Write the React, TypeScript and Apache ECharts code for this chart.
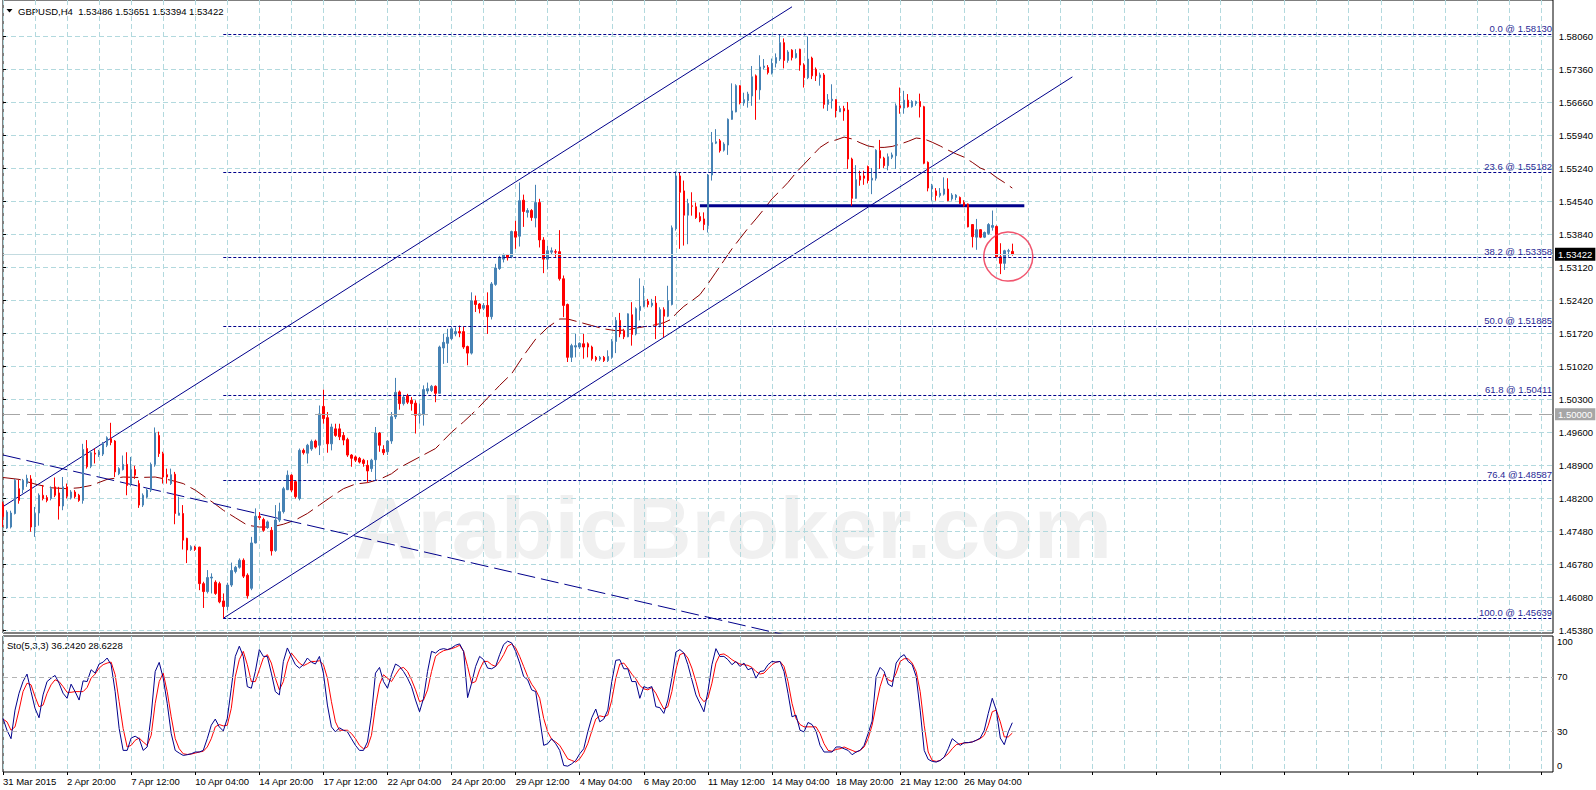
import React, { useEffect, useRef } from 'react';
import * as echarts from 'echarts';

// ---------- data ----------
const headerText = 'GBPUSD,H4  1.53486 1.53651 1.53394 1.53422';
const stochTitle = 'Sto(5,3,3) 36.2420 28.6228';
const watermarkText = 'ArabicBroker.com';

const dateLabels = ['31 Mar 2015', '2 Apr 20:00', '7 Apr 12:00', '10 Apr 04:00', '14 Apr 20:00', '17 Apr 12:00', '22 Apr 04:00', '24 Apr 20:00', '29 Apr 12:00', '4 May 04:00', '6 May 20:00', '11 May 12:00', '14 May 04:00', '18 May 20:00', '21 May 12:00', '26 May 04:00'];
const priceTickLabels = ['1.58060', '1.57360', '1.56660', '1.55940', '1.55240', '1.54540', '1.53840', '1.53120', '1.52420', '1.51720', '1.51020', '1.50300', '1.49600', '1.48900', '1.48200', '1.47480', '1.46780', '1.46080', '1.45380'];
const stochTickLabels = ['0', '30', '70', '100'];
const stochLevels = [30, 70];

// H4 candles: [open, close, low, high]
const ohlc = [
  [1.4808, 1.4781, 1.4759, 1.4813], [1.4757, 1.4791, 1.4755, 1.4795], [1.4759, 1.4789, 1.4756, 1.4794], [1.4788, 1.4859, 1.4786, 1.4862],
  [1.4841, 1.4816, 1.4809, 1.4860], [1.4839, 1.4859, 1.4831, 1.4862], [1.4852, 1.4863, 1.4845, 1.4871], [1.4862, 1.4759, 1.4749, 1.4870],
  [1.4759, 1.4788, 1.4738, 1.4802], [1.4789, 1.4827, 1.4762, 1.4831], [1.4827, 1.4820, 1.4816, 1.4849], [1.4822, 1.4816, 1.4812, 1.4827],
  [1.4820, 1.4841, 1.4816, 1.4846], [1.4845, 1.4827, 1.4823, 1.4865], [1.4832, 1.4804, 1.4775, 1.4845], [1.4804, 1.4845, 1.4795, 1.4866],
  [1.4845, 1.4825, 1.4820, 1.4852], [1.4822, 1.4834, 1.4818, 1.4838], [1.4834, 1.4824, 1.4820, 1.4838], [1.4827, 1.4816, 1.4813, 1.4830],
  [1.4816, 1.4925, 1.4809, 1.4937], [1.4927, 1.4888, 1.4884, 1.4945], [1.4889, 1.4918, 1.4885, 1.4922], [1.4917, 1.4915, 1.4895, 1.4927],
  [1.4913, 1.4920, 1.4909, 1.4924], [1.4915, 1.4937, 1.4911, 1.4941], [1.4934, 1.4950, 1.4930, 1.4953], [1.4948, 1.4940, 1.4934, 1.4982],
  [1.4943, 1.4877, 1.4866, 1.4945], [1.4873, 1.4884, 1.4870, 1.4887], [1.4882, 1.4893, 1.4880, 1.4912], [1.4893, 1.4848, 1.4827, 1.4919],
  [1.4852, 1.4882, 1.4846, 1.4909], [1.4882, 1.4870, 1.4862, 1.4890], [1.4852, 1.4806, 1.4800, 1.4859], [1.4806, 1.4827, 1.4802, 1.4831],
  [1.4823, 1.4838, 1.4820, 1.4842], [1.4838, 1.4893, 1.4834, 1.4897], [1.4893, 1.4960, 1.4888, 1.4972], [1.4955, 1.4916, 1.4909, 1.4963],
  [1.4916, 1.4866, 1.4852, 1.4920], [1.4871, 1.4866, 1.4852, 1.4884], [1.4852, 1.4871, 1.4849, 1.4884], [1.4872, 1.4788, 1.4765, 1.4877],
  [1.4784, 1.4789, 1.4784, 1.4824], [1.4788, 1.4731, 1.4711, 1.4806], [1.4735, 1.4710, 1.4682, 1.4736], [1.4711, 1.4717, 1.4708, 1.4720],
  [1.4716, 1.4711, 1.4708, 1.4719], [1.4716, 1.4638, 1.4624, 1.4717], [1.4638, 1.4621, 1.4586, 1.4642], [1.4621, 1.4651, 1.4617, 1.4667],
  [1.4650, 1.4652, 1.4617, 1.4660], [1.4641, 1.4617, 1.4614, 1.4645], [1.4638, 1.4599, 1.4596, 1.4642], [1.4601, 1.4589, 1.4564, 1.4617],
  [1.4589, 1.4635, 1.4581, 1.4640], [1.4635, 1.4666, 1.4631, 1.4683], [1.4664, 1.4673, 1.4660, 1.4676], [1.4673, 1.4688, 1.4670, 1.4692],
  [1.4688, 1.4654, 1.4650, 1.4692], [1.4656, 1.4612, 1.4606, 1.4660], [1.4628, 1.4725, 1.4624, 1.4738], [1.4725, 1.4782, 1.4724, 1.4799],
  [1.4782, 1.4779, 1.4774, 1.4791], [1.4775, 1.4752, 1.4749, 1.4779], [1.4758, 1.4770, 1.4755, 1.4773], [1.4752, 1.4708, 1.4698, 1.4759],
  [1.4709, 1.4774, 1.4706, 1.4806], [1.4774, 1.4792, 1.4770, 1.4811], [1.4792, 1.4841, 1.4788, 1.4845], [1.4839, 1.4870, 1.4838, 1.4880],
  [1.4870, 1.4838, 1.4834, 1.4872], [1.4856, 1.4824, 1.4820, 1.4859], [1.4820, 1.4923, 1.4816, 1.4927], [1.4923, 1.4918, 1.4914, 1.4927],
  [1.4917, 1.4934, 1.4895, 1.4937], [1.4926, 1.4942, 1.4922, 1.4946], [1.4943, 1.4930, 1.4927, 1.4946], [1.4934, 1.5001, 1.4913, 1.5019],
  [1.5017, 1.4991, 1.4980, 1.5053], [1.4993, 1.4937, 1.4918, 1.5005], [1.4937, 1.4973, 1.4923, 1.4980], [1.4969, 1.4955, 1.4952, 1.4980],
  [1.4969, 1.4952, 1.4945, 1.4980], [1.4955, 1.4945, 1.4934, 1.4962], [1.4946, 1.4913, 1.4909, 1.4950], [1.4913, 1.4906, 1.4888, 1.4915],
  [1.4909, 1.4902, 1.4898, 1.4912], [1.4906, 1.4898, 1.4895, 1.4909], [1.4902, 1.4895, 1.4888, 1.4905], [1.4891, 1.4879, 1.4854, 1.4902],
  [1.4884, 1.4902, 1.4877, 1.4905], [1.4903, 1.4960, 1.4859, 1.4973], [1.4960, 1.4934, 1.4920, 1.4962], [1.4925, 1.4918, 1.4913, 1.4934],
  [1.4920, 1.4943, 1.4913, 1.4945], [1.4943, 1.4995, 1.4937, 1.5005], [1.4995, 1.5047, 1.4990, 1.5078], [1.5048, 1.5023, 1.5010, 1.5051],
  [1.5023, 1.5037, 1.5019, 1.5042], [1.5040, 1.5026, 1.5022, 1.5044], [1.5030, 1.5023, 1.5008, 1.5037], [1.5024, 1.4998, 1.4959, 1.5030],
  [1.4998, 1.5001, 1.4980, 1.5023], [1.5001, 1.5053, 1.4976, 1.5062], [1.5050, 1.5055, 1.5044, 1.5068], [1.5051, 1.5060, 1.5048, 1.5063],
  [1.5060, 1.5045, 1.5026, 1.5062], [1.5045, 1.5144, 1.5044, 1.5147], [1.5142, 1.5154, 1.5108, 1.5172], [1.5152, 1.5165, 1.5110, 1.5183],
  [1.5162, 1.5183, 1.5159, 1.5188], [1.5172, 1.5177, 1.5167, 1.5186], [1.5177, 1.5174, 1.5165, 1.5190], [1.5177, 1.5144, 1.5140, 1.5188],
  [1.5145, 1.5131, 1.5105, 1.5147], [1.5131, 1.5243, 1.5128, 1.5261], [1.5243, 1.5235, 1.5219, 1.5254], [1.5236, 1.5226, 1.5216, 1.5238],
  [1.5227, 1.5233, 1.5223, 1.5238], [1.5233, 1.5209, 1.5172, 1.5261], [1.5209, 1.5279, 1.5203, 1.5283], [1.5278, 1.5313, 1.5275, 1.5322],
  [1.5312, 1.5336, 1.5309, 1.5339], [1.5332, 1.5342, 1.5325, 1.5344], [1.5342, 1.5335, 1.5329, 1.5343], [1.5337, 1.5391, 1.5334, 1.5393],
  [1.5391, 1.5379, 1.5354, 1.5414], [1.5381, 1.5457, 1.5359, 1.5496], [1.5458, 1.5434, 1.5401, 1.5470], [1.5432, 1.5436, 1.5421, 1.5441],
  [1.5436, 1.5421, 1.5414, 1.5439], [1.5420, 1.5453, 1.5400, 1.5491], [1.5453, 1.5373, 1.5357, 1.5461], [1.5373, 1.5332, 1.5302, 1.5379],
  [1.5332, 1.5350, 1.5310, 1.5361], [1.5347, 1.5350, 1.5342, 1.5357], [1.5348, 1.5347, 1.5337, 1.5353], [1.5348, 1.5290, 1.5286, 1.5394],
  [1.5290, 1.5233, 1.5208, 1.5297], [1.5235, 1.5122, 1.5112, 1.5237], [1.5122, 1.5147, 1.5112, 1.5151], [1.5144, 1.5147, 1.5122, 1.5172],
  [1.5144, 1.5152, 1.5140, 1.5154], [1.5151, 1.5144, 1.5119, 1.5172], [1.5151, 1.5144, 1.5122, 1.5154], [1.5144, 1.5119, 1.5115, 1.5147],
  [1.5122, 1.5117, 1.5113, 1.5125], [1.5118, 1.5122, 1.5114, 1.5125], [1.5122, 1.5115, 1.5112, 1.5125], [1.5115, 1.5124, 1.5112, 1.5137],
  [1.5122, 1.5156, 1.5119, 1.5161], [1.5156, 1.5201, 1.5131, 1.5208], [1.5201, 1.5172, 1.5165, 1.5217], [1.5179, 1.5166, 1.5161, 1.5183],
  [1.5166, 1.5215, 1.5165, 1.5216], [1.5213, 1.5171, 1.5147, 1.5240], [1.5172, 1.5226, 1.5169, 1.5229], [1.5222, 1.5231, 1.5201, 1.5291],
  [1.5231, 1.5243, 1.5229, 1.5275], [1.5242, 1.5235, 1.5229, 1.5247], [1.5233, 1.5238, 1.5229, 1.5247], [1.5238, 1.5190, 1.5161, 1.5253],
  [1.5190, 1.5224, 1.5186, 1.5229], [1.5224, 1.5210, 1.5165, 1.5229], [1.5210, 1.5243, 1.5208, 1.5275], [1.5235, 1.5399, 1.5233, 1.5404],
  [1.5397, 1.5510, 1.5393, 1.5520], [1.5510, 1.5475, 1.5354, 1.5517], [1.5478, 1.5426, 1.5361, 1.5500], [1.5426, 1.5451, 1.5364, 1.5461],
  [1.5446, 1.5445, 1.5425, 1.5475], [1.5444, 1.5421, 1.5418, 1.5453], [1.5423, 1.5414, 1.5411, 1.5432], [1.5418, 1.5406, 1.5394, 1.5432],
  [1.5404, 1.5512, 1.5389, 1.5514], [1.5512, 1.5581, 1.5500, 1.5604], [1.5580, 1.5583, 1.5578, 1.5610], [1.5585, 1.5564, 1.5560, 1.5589],
  [1.5565, 1.5578, 1.5562, 1.5582], [1.5576, 1.5631, 1.5555, 1.5633], [1.5631, 1.5649, 1.5630, 1.5708], [1.5647, 1.5703, 1.5646, 1.5706],
  [1.5703, 1.5666, 1.5663, 1.5704], [1.5666, 1.5673, 1.5660, 1.5688], [1.5671, 1.5685, 1.5656, 1.5690], [1.5681, 1.5722, 1.5660, 1.5745],
  [1.5724, 1.5694, 1.5630, 1.5727], [1.5694, 1.5743, 1.5673, 1.5768], [1.5742, 1.5745, 1.5738, 1.5760], [1.5742, 1.5731, 1.5727, 1.5747],
  [1.5730, 1.5751, 1.5727, 1.5761], [1.5751, 1.5763, 1.5742, 1.5772], [1.5760, 1.5795, 1.5756, 1.5813], [1.5795, 1.5757, 1.5740, 1.5804],
  [1.5757, 1.5775, 1.5752, 1.5779], [1.5779, 1.5763, 1.5757, 1.5781], [1.5763, 1.5772, 1.5761, 1.5781], [1.5781, 1.5747, 1.5735, 1.5782],
  [1.5747, 1.5720, 1.5699, 1.5751], [1.5720, 1.5760, 1.5717, 1.5808], [1.5762, 1.5724, 1.5717, 1.5765], [1.5738, 1.5724, 1.5713, 1.5742],
  [1.5720, 1.5726, 1.5703, 1.5731], [1.5726, 1.5663, 1.5654, 1.5730], [1.5663, 1.5673, 1.5649, 1.5685], [1.5671, 1.5674, 1.5654, 1.5706],
  [1.5673, 1.5649, 1.5635, 1.5674], [1.5647, 1.5654, 1.5647, 1.5660], [1.5654, 1.5649, 1.5628, 1.5660], [1.5651, 1.5546, 1.5525, 1.5668],
  [1.5546, 1.5462, 1.5446, 1.5549], [1.5462, 1.5502, 1.5461, 1.5533], [1.5510, 1.5501, 1.5489, 1.5521], [1.5510, 1.5505, 1.5491, 1.5521],
  [1.5530, 1.5500, 1.5494, 1.5532], [1.5501, 1.5505, 1.5471, 1.5527], [1.5505, 1.5565, 1.5500, 1.5567], [1.5564, 1.5548, 1.5525, 1.5587],
  [1.5548, 1.5532, 1.5527, 1.5551], [1.5532, 1.5551, 1.5522, 1.5558], [1.5550, 1.5555, 1.5546, 1.5560], [1.5553, 1.5660, 1.5525, 1.5665],
  [1.5660, 1.5656, 1.5643, 1.5699], [1.5655, 1.5672, 1.5643, 1.5692], [1.5672, 1.5658, 1.5656, 1.5685], [1.5658, 1.5669, 1.5656, 1.5672],
  [1.5665, 1.5669, 1.5660, 1.5671], [1.5669, 1.5658, 1.5635, 1.5686], [1.5658, 1.5537, 1.5535, 1.5660], [1.5539, 1.5484, 1.5477, 1.5541],
  [1.5482, 1.5489, 1.5457, 1.5493], [1.5478, 1.5468, 1.5457, 1.5484], [1.5468, 1.5473, 1.5464, 1.5484], [1.5471, 1.5482, 1.5468, 1.5507],
  [1.5482, 1.5457, 1.5456, 1.5505], [1.5461, 1.5469, 1.5457, 1.5473], [1.5464, 1.5469, 1.5458, 1.5471], [1.5464, 1.5451, 1.5450, 1.5466],
  [1.5453, 1.5446, 1.5444, 1.5458], [1.5450, 1.5401, 1.5400, 1.5451], [1.5406, 1.5380, 1.5357, 1.5407], [1.5379, 1.5395, 1.5352, 1.5418],
  [1.5395, 1.5379, 1.5377, 1.5396], [1.5379, 1.5389, 1.5377, 1.5391], [1.5387, 1.5406, 1.5384, 1.5409], [1.5400, 1.5404, 1.5393, 1.5436],
  [1.5402, 1.5337, 1.5336, 1.5404], [1.5337, 1.5323, 1.5300, 1.5366], [1.5323, 1.5350, 1.5309, 1.5352], [1.5349, 1.5350, 1.5337, 1.5354],
  [1.53486, 1.53422, 1.53394, 1.53651],
];

// moving average (dark red, dashed) read at sample candles: [candle index, price]
const maPoints = [
  [0, 1.4865], [4, 1.4861], [8, 1.4851], [12, 1.4843], [16, 1.4841], [19, 1.4843], [22, 1.4848], [26, 1.4861], [30, 1.4866], [34, 1.4865],
  [38, 1.4866], [42, 1.4859], [45, 1.4852], [48, 1.4838], [51, 1.4820], [53, 1.4808], [55, 1.4795], [58, 1.4779], [61, 1.4763], [64, 1.4759],
  [67, 1.4759], [70, 1.4765], [73, 1.4774], [76, 1.4788], [79, 1.4806], [82, 1.4824], [85, 1.4841], [88, 1.4851], [91, 1.4854], [94, 1.4861],
  [97, 1.4873], [99, 1.4886], [108, 1.4927], [112, 1.4962], [115, 1.4984], [118, 1.5008], [121, 1.5035], [124, 1.5062], [127, 1.5087],
  [130, 1.5126], [133, 1.5161], [136, 1.5186], [139, 1.5204], [141, 1.5204], [144, 1.5197], [147, 1.5190], [150, 1.5183], [153, 1.5179],
  [156, 1.5181], [159, 1.5186], [162, 1.5190], [165, 1.5196], [167, 1.5204], [168, 1.5215], [170, 1.5231], [172, 1.5243], [174, 1.5256],
  [176, 1.5279], [178, 1.5304], [180, 1.5329], [182, 1.5354], [184, 1.5376], [186, 1.5398], [188, 1.5418], [190, 1.5439], [192, 1.5461],
  [194, 1.5478], [196, 1.5496], [198, 1.5517], [200, 1.5535], [202, 1.5553], [204, 1.5571], [206, 1.5582], [208, 1.5587], [210, 1.5593],
  [212, 1.5589], [214, 1.5581], [216, 1.5574], [218, 1.5571], [220, 1.5571], [222, 1.5573], [224, 1.5578], [226, 1.5584], [228, 1.5591],
  [230, 1.5589], [232, 1.5582], [234, 1.5574], [236, 1.5565], [238, 1.5557], [240, 1.5550], [242, 1.5539], [244, 1.5527], [246, 1.5520],
  [248, 1.5507], [250, 1.5496], [252, 1.5484],
];

// Stochastic %K (navy) and %D (red)
const stochK = [
  39.4, 30.7, 24.5, 45.5, 57.9, 66.5, 72.0, 59.1, 46.8, 39.9, 56.7, 66.5, 69.0, 71.0, 65.3, 57.9, 54.2, 64.6, 59.1, 52.9,
  67.0, 66.5, 75.2, 72.7, 79.4, 80.8, 83.8, 78.9, 59.1, 32.0, 15.9, 15.9, 25.0, 26.3, 24.5, 15.9, 18.4, 41.8, 73.9, 80.6,
  69.0, 50.5, 28.3, 15.9, 13.9, 12.2, 12.7, 13.4, 14.7, 14.7, 15.9, 24.5, 34.4, 38.9, 33.2, 30.2, 39.4, 61.6, 85.0, 92.5,
  85.0, 62.8, 61.6, 73.9, 90.0, 85.0, 85.0, 72.7, 59.1, 56.7, 81.3, 91.2, 85.0, 78.9, 76.4, 78.9, 83.8, 80.8, 79.4, 85.0,
  72.7, 49.2, 33.2, 29.5, 32.5, 30.7, 29.5, 24.5, 19.6, 15.9, 15.9, 22.1, 41.8, 72.7, 76.9, 66.5, 61.6, 71.5, 79.4, 77.6,
  73.9, 69.0, 62.8, 52.9, 44.3, 54.2, 73.9, 88.7, 87.5, 90.0, 90.7, 90.0, 91.2, 93.2, 94.2, 88.7, 54.7, 65.3, 77.6, 85.0,
  82.6, 76.4, 75.9, 77.6, 86.3, 93.7, 96.2, 94.9, 88.7, 80.1, 70.2, 67.8, 60.4, 59.1, 39.4, 19.6, 20.8, 24.5, 20.8, 15.9,
  4.8, 4.3, 6.0, 8.5, 13.4, 17.1, 29.5, 39.9, 46.3, 36.9, 38.9, 45.5, 66.5, 82.1, 82.6, 75.9, 75.9, 66.5, 66.5, 54.2,
  62.8, 61.6, 62.8, 48.0, 47.3, 43.1, 52.9, 69.0, 88.2, 90.0, 87.5, 78.9, 67.8, 56.7, 50.5, 44.3, 59.1, 78.9, 90.7, 85.0,
  85.0, 82.6, 78.9, 81.3, 77.6, 80.1, 75.2, 76.4, 69.0, 73.9, 74.4, 78.9, 81.3, 80.8, 81.3, 73.9, 57.9, 40.6, 41.8, 30.7,
  29.5, 36.4, 34.9, 30.0, 19.6, 14.7, 14.7, 14.7, 18.4, 18.4, 17.1, 15.9, 12.7, 14.7, 15.9, 19.6, 28.3, 37.4, 70.2, 76.9,
  73.9, 64.6, 62.8, 80.1, 84.3, 86.3, 81.3, 78.9, 70.2, 45.5, 15.9, 9.3, 7.8, 7.3, 8.5, 11.0, 17.1, 24.5, 22.1, 19.6,
  21.6, 21.6, 22.1, 23.3, 25.0, 30.7, 43.1, 54.2, 45.5, 25.0, 20.1, 29.5, 36.242,
];
const stochD = [
  38.9, 36.9, 30.7, 33.2, 45.5, 59.1, 65.3, 64.1, 55.4, 48.0, 49.2, 57.9, 64.1, 67.8, 66.5, 62.8, 58.6, 58.6, 59.1, 59.1,
  59.1, 62.1, 69.0, 72.0, 76.4, 78.9, 80.1, 80.8, 71.5, 51.7, 32.0, 18.4, 19.6, 23.3, 25.0, 22.1, 19.6, 27.0, 50.5, 66.5,
  72.7, 59.1, 40.6, 24.5, 17.1, 13.4, 12.9, 13.2, 13.9, 14.7, 15.2, 18.4, 24.5, 33.2, 34.9, 33.9, 34.4, 46.8, 70.2, 82.6,
  88.7, 78.9, 66.5, 66.5, 75.2, 83.8, 86.3, 80.1, 69.0, 60.4, 66.5, 80.1, 87.5, 83.8, 80.1, 78.1, 79.6, 81.3, 81.3, 81.8,
  78.9, 69.0, 51.7, 36.9, 30.7, 30.7, 30.7, 28.3, 24.5, 19.6, 17.1, 18.4, 27.0, 48.0, 64.1, 71.5, 69.0, 66.5, 71.5, 75.9,
  76.9, 73.9, 67.8, 60.4, 51.7, 52.9, 60.4, 73.9, 85.0, 87.5, 89.2, 90.0, 90.7, 91.7, 93.2, 88.7, 77.6, 65.3, 66.5, 75.2,
  81.3, 81.3, 78.9, 77.6, 81.3, 86.3, 92.5, 94.2, 91.2, 85.0, 77.6, 70.2, 64.6, 60.4, 54.2, 39.4, 29.5, 24.0, 22.1, 19.6,
  14.7, 9.7, 8.5, 7.3, 9.7, 14.2, 20.8, 30.0, 38.9, 41.3, 40.6, 41.8, 52.9, 69.0, 79.4, 80.1, 76.4, 72.0, 68.5, 63.6,
  61.1, 60.4, 62.1, 57.9, 51.7, 46.3, 48.0, 59.1, 75.2, 86.3, 87.5, 83.8, 76.4, 66.5, 55.4, 51.7, 54.2, 65.3, 80.1, 86.3,
  86.8, 85.0, 82.6, 80.8, 79.4, 78.9, 78.4, 76.9, 73.9, 72.0, 72.7, 75.9, 78.9, 80.8, 81.3, 77.6, 66.5, 50.5, 39.4, 34.9,
  33.2, 33.2, 33.2, 33.2, 28.3, 20.8, 15.9, 15.2, 16.6, 17.1, 18.4, 17.1, 15.9, 14.7, 15.9, 18.4, 24.5, 34.4, 49.2, 62.8,
  72.0, 67.8, 66.5, 72.7, 81.3, 83.3, 83.3, 80.1, 73.9, 59.1, 34.4, 14.7, 8.5, 7.8, 8.5, 11.0, 13.4, 17.1, 20.1, 20.8,
  21.3, 21.6, 22.1, 23.3, 24.5, 27.0, 34.4, 44.3, 45.5, 36.9, 25.8, 25.8, 28.6228,
];

// Fibonacci retracement from the 10 Apr low to the 14 May high
const fibStartIndex = 55;
const fibLevels = [
  { price: 1.5813, text: '0.0 @ 1.58130' },
  { price: 1.55182, text: '23.6 @ 1.55182' },
  { price: 1.53358, text: '38.2 @ 1.53358' },
  { price: 1.51885, text: '50.0 @ 1.51885' },
  { price: 1.50411, text: '61.8 @ 1.50411' },
  { price: 1.48587, text: '76.4 @1.48587' },
  { price: 1.45639, text: '100.0 @ 1.45639' },
];

// hand-drawn objects: [candle index, price]
const upperChannel = [[0, 1.48027], [197, 1.58717]];
const lowerChannel = [[55, 1.45639], [267, 1.57218]];
const downTrend = [[0, 1.49131], [200, 1.45189]];
const neckline = [[174, 1.54463], [255, 1.54463]];
const circleMark = [[251, 1.53375]];
const bidPrice = 1.53422;
const roundLevel = 1.5;

// ---------- layout constants ----------
const SLOTS = 388;
const LABEL_STEP = 16;
const P_MIN = 1.453241;
const P_MAX = 1.588624;
const FONT = '"Liberation Sans", Arial, sans-serif';
const FS = 9.5;
const GRID_LINE = { color: '#b2d9de', type: [5, 3], width: 1 };
const NAVY = '#00008b';

export default function App() {
  const ref = useRef<HTMLDivElement>(null);
  useEffect(() => {
    document.body.style.margin = '0';
    if (!ref.current) return;
    const chart = echarts.init(ref.current, undefined, { renderer: 'svg' });
    const cats = Array.from({ length: SLOTS }, (_, i) => String(i));
    const dateFmt = (v: string) => {
      const i = Number(v);
      return i % LABEL_STEP === 0 ? (dateLabels[i / LABEL_STEP] ?? '') : '';
    };
    const lineSeries = (data: number[][], color: string, width: number, type: any) => ({
      type: 'line', xAxisIndex: 0, yAxisIndex: 0, data, symbol: 'none', silent: true,
      lineStyle: { color, width, type }, z: 3,
    });

    const fibData = fibLevels.map((f) => [
      {
        coord: [fibStartIndex, f.price], name: f.text,
        lineStyle: { color: NAVY, type: [3, 2], width: 1 },
        label: { show: true, position: 'insideEndTop', formatter: '{b}', color: '#2a2a96', fontSize: FS, fontFamily: FONT, distance: 1 },
      },
      { coord: [SLOTS - 1, f.price] },
    ]);
    const levelLine = (price: number, lineStyle: any, bg: string, pad: number[]) => [
      {
        coord: [0, price], name: price.toFixed(5), lineStyle,
        label: { show: true, position: 'end', formatter: '{b}', backgroundColor: bg, color: '#ffffff', padding: pad, distance: 2, fontSize: FS, fontFamily: FONT },
      },
      { coord: [SLOTS - 1, price] },
    ];

    const option: any = {
      animation: false,
      backgroundColor: '#ffffff',
      grid: [
        { left: 3, right: 43, top: -1, height: 634, show: true, borderColor: '#000', borderWidth: 1 },
        { left: 3, right: 43, top: 36.6, height: 593.8 },
        { left: 3, right: 43, top: 636, height: 136, show: true, borderColor: '#000', borderWidth: 1 },
      ],
      xAxis: [
        {
          gridIndex: 0, type: 'category', data: cats, boundaryGap: false,
          axisLine: { show: false }, axisTick: { show: false }, axisLabel: { show: false, interval: 7 },
          splitLine: { show: true, interval: 7, lineStyle: GRID_LINE },
        },
        { gridIndex: 1, type: 'value', show: false, min: 0, max: 1 },
        {
          gridIndex: 2, type: 'category', data: cats, boundaryGap: false,
          axisLine: { show: false },
          axisTick: { show: true, interval: LABEL_STEP - 1, length: 3, lineStyle: { color: '#000' } },
          axisLabel: { interval: LABEL_STEP - 1, formatter: dateFmt, align: 'left', margin: 4, fontSize: FS, fontFamily: FONT, color: '#000' },
          splitLine: { show: true, interval: 7, lineStyle: GRID_LINE },
        },
      ],
      yAxis: [
        { gridIndex: 0, type: 'value', min: P_MIN, max: P_MAX, show: false },
        {
          gridIndex: 1, type: 'value', min: 0, max: priceTickLabels.length - 1, interval: 1, position: 'right',
          axisLine: { show: false },
          axisTick: { show: true, length: 3, lineStyle: { color: '#000' } },
          axisLabel: { formatter: (v: number) => priceTickLabels[priceTickLabels.length - 1 - v] ?? '', margin: 6, fontSize: FS, fontFamily: FONT, color: '#000' },
          splitLine: { show: true, lineStyle: GRID_LINE },
        },
        {
          gridIndex: 2, type: 'value', min: 0, max: 100, interval: 10, position: 'right',
          axisLine: { show: false }, axisTick: { show: false }, splitLine: { show: false },
          axisLabel: {
            margin: 4, fontSize: FS, fontFamily: FONT, color: '#000',
            formatter: (v: number) => {
              const s = String(v);
              if (!stochTickLabels.includes(s)) return '';
              if (v === 100) return '{t|' + s + '}';
              if (v === 0) return '{b|' + s + '}';
              return s;
            },
            rich: {
              t: { padding: [11, 0, 0, 0], fontSize: FS, fontFamily: FONT, color: '#000' },
              b: { padding: [0, 0, 13, 0], fontSize: FS, fontFamily: FONT, color: '#000' },
            },
          },
        },
      ],
      graphic: [
        {
          type: 'text', x: 354, y: 527, z: -10, silent: true,
          style: { text: watermarkText, font: 'bold 88px "Liberation Sans", Arial, sans-serif', fill: '#f0f0f0', verticalAlign: 'middle' },
        },
        { type: 'polygon', shape: { points: [[6.5, 9], [12.5, 9], [9.5, 12.5]] }, style: { fill: '#000' } },
        { type: 'text', x: 18, y: 11, style: { text: headerText, font: `${FS}px ${FONT}`, fill: '#000', verticalAlign: 'middle' } },
        { type: 'text', x: 7, y: 645.5, style: { text: stochTitle, font: `${FS}px ${FONT}`, fill: '#000', verticalAlign: 'middle' } },
      ],
      series: [
        {
          type: 'candlestick', xAxisIndex: 0, yAxisIndex: 0, data: ohlc, barWidth: 2, clip: false, z: 4,
          itemStyle: { color: '#4682b4', color0: '#ff0000', borderColor: '#4682b4', borderColor0: '#ff0000', borderWidth: 1 },
          markLine: {
            silent: true, symbol: ['none', 'none'], precision: 5,
            data: [
              ...fibData,
              levelLine(roundLevel, { color: '#a6a6a6', type: [17, 7], width: 1 }, '#a6a6a6', [1, 3, 1, 3]),
              levelLine(bidPrice, { color: '#c3dbe0', type: 'solid', width: 1 }, '#000000', [2, 3, 1, 3]),
            ],
          },
        },
        { ...lineSeries(maPoints, '#8b0000', 1, [18, 6]), z: 3 },
        lineSeries(upperChannel, NAVY, 1, 'solid'),
        lineSeries(lowerChannel, NAVY, 1, 'solid'),
        lineSeries(downTrend, NAVY, 1, [18, 6]),
        lineSeries(neckline, NAVY, 3, 'solid'),
        {
          type: 'scatter', xAxisIndex: 0, yAxisIndex: 0, data: circleMark, symbol: 'circle', symbolSize: 49, silent: true, z: 5,
          itemStyle: { color: 'rgba(0,0,0,0)', borderColor: '#ee2a4a', borderWidth: 1.5 },
        },
        { type: 'line', xAxisIndex: 1, yAxisIndex: 1, data: [] },
        {
          type: 'line', xAxisIndex: 2, yAxisIndex: 2, data: stochK, symbol: 'none', silent: true,
          lineStyle: { color: NAVY, width: 1 }, z: 4,
          markLine: {
            silent: true, symbol: ['none', 'none'], label: { show: false },
            lineStyle: { color: '#b4b4b4', type: [5, 4], width: 1 },
            data: stochLevels.map((v) => ({ yAxis: v })),
          },
        },
        {
          type: 'line', xAxisIndex: 2, yAxisIndex: 2, data: stochD, symbol: 'none', silent: true,
          lineStyle: { color: '#ff0000', width: 1 }, z: 3,
        },
      ],
    };
    chart.setOption(option);
    return () => chart.dispose();
  }, []);
  return <div ref={ref} style={{ width: 1596, height: 790 }} />;
}
